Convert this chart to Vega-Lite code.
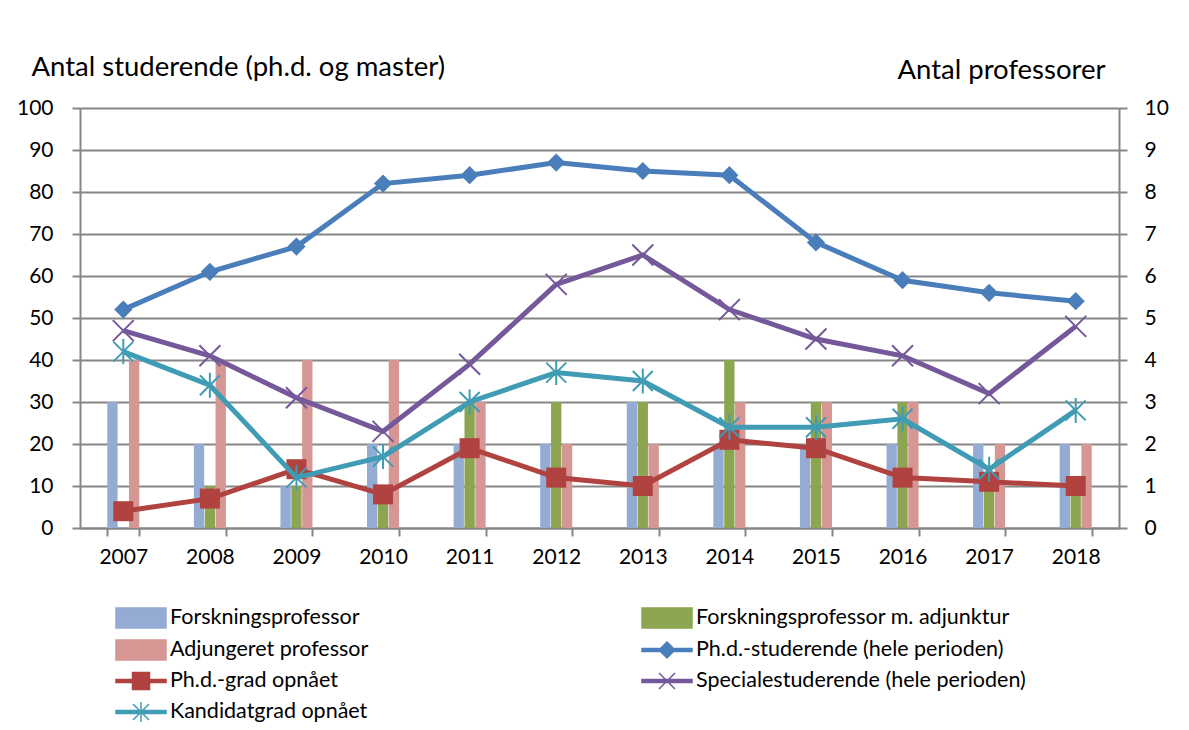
{
  "$schema": "https://vega.github.io/schema/vega-lite/v6.json",
  "width": 1039,
  "height": 420,
  "autosize": {"type": "none"},
  "padding": {"left": 80, "top": 108, "right": 70, "bottom": 202},
  "background": "white",
  "config": {
    "view": {"stroke": null},
    "font": "Lato",
    "axis": {
      "domainColor": "#868686", "domainWidth": 2,
      "tickColor": "#868686", "tickWidth": 2, "tickSize": 8,
      "gridColor": "#868686", "gridWidth": 2,
      "labelFont": "Lato", "labelFontSize": 21, "labelColor": "black",
      "titleFont": "Lato", "titleFontSize": 27.5, "titleColor": "black", "titleFontWeight": "normal"
    },
    "axisX": {"title": null, "tickBand": "extent", "labelPadding": 10, "grid": false, "labelAngle": 0}
  },
  "datasets": {
    "prof": [
      {"year": "2007", "series": "Forskningsprofessor", "value": 3},
      {"year": "2007", "series": "Forskningsprofessor m. adjunktur", "value": 0},
      {"year": "2007", "series": "Adjungeret professor", "value": 4},
      {"year": "2008", "series": "Forskningsprofessor", "value": 2},
      {"year": "2008", "series": "Forskningsprofessor m. adjunktur", "value": 1},
      {"year": "2008", "series": "Adjungeret professor", "value": 4},
      {"year": "2009", "series": "Forskningsprofessor", "value": 1},
      {"year": "2009", "series": "Forskningsprofessor m. adjunktur", "value": 1},
      {"year": "2009", "series": "Adjungeret professor", "value": 4},
      {"year": "2010", "series": "Forskningsprofessor", "value": 2},
      {"year": "2010", "series": "Forskningsprofessor m. adjunktur", "value": 1},
      {"year": "2010", "series": "Adjungeret professor", "value": 4},
      {"year": "2011", "series": "Forskningsprofessor", "value": 2},
      {"year": "2011", "series": "Forskningsprofessor m. adjunktur", "value": 3},
      {"year": "2011", "series": "Adjungeret professor", "value": 3},
      {"year": "2012", "series": "Forskningsprofessor", "value": 2},
      {"year": "2012", "series": "Forskningsprofessor m. adjunktur", "value": 3},
      {"year": "2012", "series": "Adjungeret professor", "value": 2},
      {"year": "2013", "series": "Forskningsprofessor", "value": 3},
      {"year": "2013", "series": "Forskningsprofessor m. adjunktur", "value": 3},
      {"year": "2013", "series": "Adjungeret professor", "value": 2},
      {"year": "2014", "series": "Forskningsprofessor", "value": 2},
      {"year": "2014", "series": "Forskningsprofessor m. adjunktur", "value": 4},
      {"year": "2014", "series": "Adjungeret professor", "value": 3},
      {"year": "2015", "series": "Forskningsprofessor", "value": 2},
      {"year": "2015", "series": "Forskningsprofessor m. adjunktur", "value": 3},
      {"year": "2015", "series": "Adjungeret professor", "value": 3},
      {"year": "2016", "series": "Forskningsprofessor", "value": 2},
      {"year": "2016", "series": "Forskningsprofessor m. adjunktur", "value": 3},
      {"year": "2016", "series": "Adjungeret professor", "value": 3},
      {"year": "2017", "series": "Forskningsprofessor", "value": 2},
      {"year": "2017", "series": "Forskningsprofessor m. adjunktur", "value": 1},
      {"year": "2017", "series": "Adjungeret professor", "value": 2},
      {"year": "2018", "series": "Forskningsprofessor", "value": 2},
      {"year": "2018", "series": "Forskningsprofessor m. adjunktur", "value": 1},
      {"year": "2018", "series": "Adjungeret professor", "value": 2}
    ],
    "stud": [
      {"year": "2007", "series": "Ph.d.-studerende (hele perioden)", "value": 52},
      {"year": "2008", "series": "Ph.d.-studerende (hele perioden)", "value": 61},
      {"year": "2009", "series": "Ph.d.-studerende (hele perioden)", "value": 67},
      {"year": "2010", "series": "Ph.d.-studerende (hele perioden)", "value": 82},
      {"year": "2011", "series": "Ph.d.-studerende (hele perioden)", "value": 84},
      {"year": "2012", "series": "Ph.d.-studerende (hele perioden)", "value": 87},
      {"year": "2013", "series": "Ph.d.-studerende (hele perioden)", "value": 85},
      {"year": "2014", "series": "Ph.d.-studerende (hele perioden)", "value": 84},
      {"year": "2015", "series": "Ph.d.-studerende (hele perioden)", "value": 68},
      {"year": "2016", "series": "Ph.d.-studerende (hele perioden)", "value": 59},
      {"year": "2017", "series": "Ph.d.-studerende (hele perioden)", "value": 56},
      {"year": "2018", "series": "Ph.d.-studerende (hele perioden)", "value": 54},
      {"year": "2007", "series": "Ph.d.-grad opnået", "value": 4},
      {"year": "2008", "series": "Ph.d.-grad opnået", "value": 7},
      {"year": "2009", "series": "Ph.d.-grad opnået", "value": 14},
      {"year": "2010", "series": "Ph.d.-grad opnået", "value": 8},
      {"year": "2011", "series": "Ph.d.-grad opnået", "value": 19},
      {"year": "2012", "series": "Ph.d.-grad opnået", "value": 12},
      {"year": "2013", "series": "Ph.d.-grad opnået", "value": 10},
      {"year": "2014", "series": "Ph.d.-grad opnået", "value": 21},
      {"year": "2015", "series": "Ph.d.-grad opnået", "value": 19},
      {"year": "2016", "series": "Ph.d.-grad opnået", "value": 12},
      {"year": "2017", "series": "Ph.d.-grad opnået", "value": 11},
      {"year": "2018", "series": "Ph.d.-grad opnået", "value": 10},
      {"year": "2007", "series": "Specialestuderende (hele perioden)", "value": 47},
      {"year": "2008", "series": "Specialestuderende (hele perioden)", "value": 41},
      {"year": "2009", "series": "Specialestuderende (hele perioden)", "value": 31},
      {"year": "2010", "series": "Specialestuderende (hele perioden)", "value": 23},
      {"year": "2011", "series": "Specialestuderende (hele perioden)", "value": 39},
      {"year": "2012", "series": "Specialestuderende (hele perioden)", "value": 58},
      {"year": "2013", "series": "Specialestuderende (hele perioden)", "value": 65},
      {"year": "2014", "series": "Specialestuderende (hele perioden)", "value": 52},
      {"year": "2015", "series": "Specialestuderende (hele perioden)", "value": 45},
      {"year": "2016", "series": "Specialestuderende (hele perioden)", "value": 41},
      {"year": "2017", "series": "Specialestuderende (hele perioden)", "value": 32},
      {"year": "2018", "series": "Specialestuderende (hele perioden)", "value": 48},
      {"year": "2007", "series": "Kandidatgrad opnået", "value": 42},
      {"year": "2008", "series": "Kandidatgrad opnået", "value": 34},
      {"year": "2009", "series": "Kandidatgrad opnået", "value": 12},
      {"year": "2010", "series": "Kandidatgrad opnået", "value": 17},
      {"year": "2011", "series": "Kandidatgrad opnået", "value": 30},
      {"year": "2012", "series": "Kandidatgrad opnået", "value": 37},
      {"year": "2013", "series": "Kandidatgrad opnået", "value": 35},
      {"year": "2014", "series": "Kandidatgrad opnået", "value": 24},
      {"year": "2015", "series": "Kandidatgrad opnået", "value": 24},
      {"year": "2016", "series": "Kandidatgrad opnået", "value": 26},
      {"year": "2017", "series": "Kandidatgrad opnået", "value": 14},
      {"year": "2018", "series": "Kandidatgrad opnået", "value": 28}
    ]
  },
  "layer": [
    {
      "data": {"name": "prof"},
      "mark": {"type": "bar"},
      "encoding": {
        "x": {"field": "year", "type": "ordinal", "scale": {"paddingInner": 0.63, "paddingOuter": 0.315}},
        "xOffset": {"field": "series", "type": "nominal", "scale": {"domain": ["Forskningsprofessor", "Forskningsprofessor m. adjunktur", "Adjungeret professor"], "paddingInner": 0.05}},
        "y": {
          "field": "value", "type": "quantitative",
          "scale": {"domain": [0, 10]},
          "axis": {"orient": "right", "values": [0, 1, 2, 3, 4, 5, 6, 7, 8, 9, 10], "grid": false, "labelPadding": 17,
            "title": "Antal professorer", "titleAngle": 0, "titleAlign": "right", "titleBaseline": "alphabetic", "titleX": -14, "titleY": -30}
        },
        "color": {
          "field": "series", "type": "nominal",
          "scale": {
            "domain": ["Forskningsprofessor", "Adjungeret professor", "Ph.d.-grad opnået", "Kandidatgrad opnået", "Forskningsprofessor m. adjunktur", "Ph.d.-studerende (hele perioden)", "Specialestuderende (hele perioden)"],
            "range": ["#94ABD4", "#D69694", "#B0423F", "#3F9CB4", "#8CA551", "#4A7EBB", "#74589A"]
          },
          "legend": {
            "orient": "none", "legendX": 50, "legendY": 499, "columns": 2, "columnPadding": 270, "rowPadding": 6,
            "symbolSize": 400, "labelOffset": 18, "labelFontSize": 21.5, "labelFont": "Lato", "labelColor": "black", "labelLimit": 0,
            "padding": 0, "title": null,
            "encode": {
              "symbols": {
                "update": {
                  "shape": {"signal": "datum.value === 'Ph.d.-studerende (hele perioden)' ? 'M-2.5,-0.15H2.5V0.15H-2.5Z M0,-0.8L0.8,0L0,0.8L-0.8,0Z' : datum.value === 'Ph.d.-grad opnået' ? 'M-2.5,-0.15H2.5V0.15H-2.5Z M-0.85,-0.85H0.85V0.85H-0.85Z' : datum.value === 'Specialestuderende (hele perioden)' ? 'M-2.5,-0.15H2.5V0.15H-2.5Z M-0.8,-0.8L0.8,0.8M-0.8,0.8L0.8,-0.8' : datum.value === 'Kandidatgrad opnået' ? 'M-2.5,-0.15H2.5V0.15H-2.5Z M-0.8,-0.8L0.8,0.8M-0.8,0.8L0.8,-0.8M0,-1L0,1' : 'M-2.5,-1H2.5V1H-2.5Z'"},
                  "fill": {"scale": "color", "field": "value"},
                  "stroke": {"scale": "color", "field": "value"},
                  "strokeWidth": {"value": 1.5},
                  "size": {"value": 400},
                  "opacity": {"value": 1},
                  "fillOpacity": {"value": 1}
                }
              }
            }
          }
        }
      }
    },
    {
      "data": {"name": "stud"},
      "encoding": {
        "x": {"field": "year", "type": "ordinal"},
        "y": {
          "field": "value", "type": "quantitative",
          "scale": {"domain": [0, 100]},
          "axis": {"orient": "left", "values": [0, 10, 20, 30, 40, 50, 60, 70, 80, 90, 100], "grid": true, "labelPadding": 19,
            "title": "Antal studerende (ph.d. og master)", "titleAngle": 0, "titleAlign": "left", "titleBaseline": "alphabetic", "titleX": -49, "titleY": -33}
        },
        "color": {"field": "series", "type": "nominal"}
      },
      "layer": [
        {"transform": [{"filter": "datum.series === 'Ph.d.-studerende (hele perioden)'"}], "mark": {"type": "line", "strokeWidth": 5}},
        {"transform": [{"filter": "datum.series === 'Ph.d.-studerende (hele perioden)'"}], "mark": {"type": "point", "shape": "diamond", "filled": true, "size": 330, "opacity": 1}},
        {"transform": [{"filter": "datum.series === 'Ph.d.-grad opnået'"}], "mark": {"type": "line", "strokeWidth": 5}},
        {"transform": [{"filter": "datum.series === 'Ph.d.-grad opnået'"}], "mark": {"type": "point", "shape": "square", "filled": true, "size": 400, "opacity": 1}},
        {"transform": [{"filter": "datum.series === 'Specialestuderende (hele perioden)'"}], "mark": {"type": "line", "strokeWidth": 5}},
        {"transform": [{"filter": "datum.series === 'Specialestuderende (hele perioden)'"}], "mark": {"type": "point", "shape": "M-1,-1L1,1M-1,1L1,-1", "filled": false, "strokeWidth": 2, "size": 440, "opacity": 1}},
        {"transform": [{"filter": "datum.series === 'Kandidatgrad opnået'"}], "mark": {"type": "line", "strokeWidth": 5}},
        {"transform": [{"filter": "datum.series === 'Kandidatgrad opnået'"}], "mark": {"type": "point", "shape": "M-1,-1L1,1M-1,1L1,-1M0,-1.25L0,1.25", "filled": false, "strokeWidth": 2, "size": 400, "opacity": 1}}
      ]
    }
  ],
  "resolve": {"scale": {"y": "independent"}}
}
